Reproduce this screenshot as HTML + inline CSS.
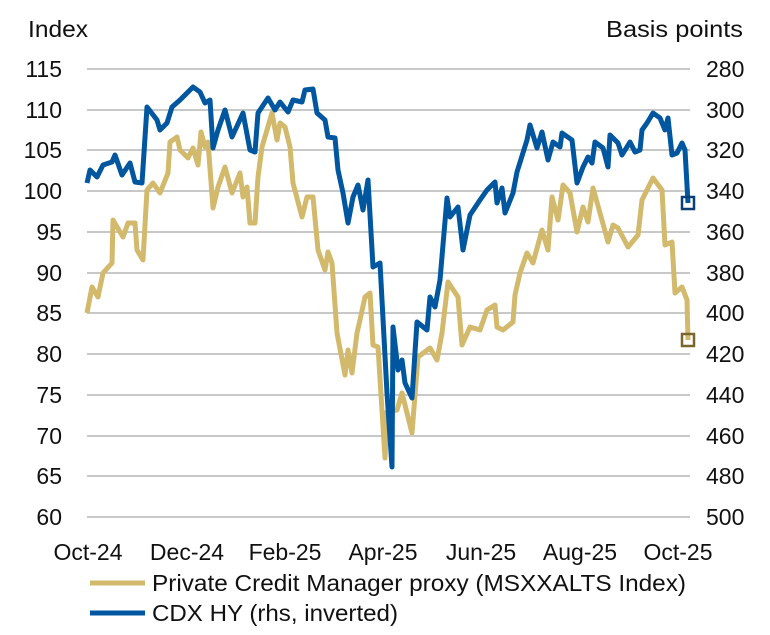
<!DOCTYPE html>
<html><head><meta charset="utf-8"><style>
body{margin:0;background:#fff;}
svg text{font-family:"Liberation Sans",sans-serif;font-size:23px;fill:#111;}
</style></head><body>
<svg width="770" height="630" xmlns="http://www.w3.org/2000/svg">
<g stroke="#c8c8c8" stroke-width="2">
<line x1="87" x2="690" y1="69" y2="69"/><line x1="87" x2="690" y1="110" y2="110"/><line x1="87" x2="690" y1="150" y2="150"/><line x1="87" x2="690" y1="191" y2="191"/><line x1="87" x2="690" y1="232" y2="232"/><line x1="87" x2="690" y1="273" y2="273"/><line x1="87" x2="690" y1="313" y2="313"/><line x1="87" x2="690" y1="354" y2="354"/><line x1="87" x2="690" y1="395" y2="395"/><line x1="87" x2="690" y1="436" y2="436"/><line x1="87" x2="690" y1="476" y2="476"/><line x1="87" x2="690" y1="517" y2="517"/>
</g>
<text x="28" y="37" textLength="60" lengthAdjust="spacingAndGlyphs">Index</text>
<text x="606" y="37" textLength="137" lengthAdjust="spacingAndGlyphs">Basis points</text>
<g text-anchor="end">
<text x="62" y="77">115</text><text x="62" y="118">110</text><text x="62" y="158">105</text><text x="62" y="199">100</text><text x="62" y="240">95</text><text x="62" y="281">90</text><text x="62" y="321">85</text><text x="62" y="362">80</text><text x="62" y="403">75</text><text x="62" y="444">70</text><text x="62" y="484">65</text><text x="62" y="525">60</text>
</g>
<g>
<text x="706" y="77">280</text><text x="706" y="118">300</text><text x="706" y="158">320</text><text x="706" y="199">340</text><text x="706" y="240">360</text><text x="706" y="281">380</text><text x="706" y="321">400</text><text x="706" y="362">420</text><text x="706" y="403">440</text><text x="706" y="444">460</text><text x="706" y="484">480</text><text x="706" y="525">500</text>
</g>
<g text-anchor="middle">
<text x="88" y="560">Oct-24</text><text x="187" y="560">Dec-24</text><text x="285" y="560">Feb-25</text><text x="383" y="560">Apr-25</text><text x="481" y="560">Jun-25</text><text x="580" y="560">Aug-25</text><text x="678" y="560">Oct-25</text>
</g>
<polyline fill="none" stroke="#d2b96c" stroke-width="5" stroke-linejoin="round" points="87,313 92,287 98,297 103,273 112,263 113,220 123,237 128,223 135,223 137,250 143,260 147,190 153,183 160,193 168,173 170,142 177,137 180,150 188,158 193,148 198,165 201,132 205,147 208,142 213,208 218,187 225,167 232,193 240,173 243,197 247,187 250,223 255,223 258,177 262,147 272,113 277,140 280,123 285,127 290,147 293,183 302,217 307,197 313,197 318,250 325,270 328,252 332,263 337,333 345,375 348,350 352,373 357,333 360,320 365,297 370,293 373,345 378,347 385,458 387,412 397,410 402,393 412,433 418,357 430,348 437,360 442,333 448,282 458,297 462,345 470,327 480,330 487,310 495,305 497,327 503,330 513,322 515,295 520,273 527,253 533,263 542,230 548,250 552,197 558,220 563,185 570,193 577,232 583,207 588,222 593,188 600,213 608,242 613,225 618,228 628,247 638,235 642,200 653,178 662,190 665,245 672,242 675,293 682,287 687,300 688,340"/>
<polyline fill="none" stroke="#0057a0" stroke-width="5" stroke-linejoin="round" points="87,183 90,170 97,177 103,165 112,162 115,155 122,175 130,163 135,182 142,183 147,107 157,120 160,130 167,123 172,107 180,100 193,87 200,92 205,103 210,100 213,148 218,130 225,110 232,137 243,113 250,150 255,152 258,113 268,98 275,110 280,102 288,112 293,100 302,102 305,90 313,89 317,113 325,120 328,137 335,138 338,170 343,193 348,223 353,197 358,185 363,210 368,180 373,267 380,263 387,393 392,467 393,327 398,370 402,360 405,383 412,398 417,322 427,330 430,297 435,307 440,280 447,198 450,217 458,207 463,250 470,215 480,200 487,190 495,182 497,203 502,188 505,213 513,193 517,172 527,140 530,125 537,148 542,132 548,160 553,142 560,147 562,133 572,140 577,183 583,167 588,157 592,163 595,142 603,148 608,167 610,135 618,143 622,155 630,142 635,152 640,150 642,130 647,123 653,113 660,118 665,130 668,118 672,155 677,153 682,143 685,150 688,203"/>
<rect x="682" y="197" width="12" height="12" fill="none" stroke="#0a3e74" stroke-width="2.5"/>
<rect x="682" y="334" width="12" height="12" fill="none" stroke="#7a6530" stroke-width="2.5"/>
<line x1="90" x2="145" y1="583" y2="583" stroke="#d2b96c" stroke-width="5"/>
<text x="152" y="591" textLength="534" lengthAdjust="spacingAndGlyphs">Private Credit Manager proxy (MSXXALTS Index)</text>
<line x1="90" x2="145" y1="613" y2="613" stroke="#0057a0" stroke-width="5"/>
<text x="152" y="621" textLength="246" lengthAdjust="spacingAndGlyphs">CDX HY (rhs, inverted)</text>
</svg>
</body></html>
